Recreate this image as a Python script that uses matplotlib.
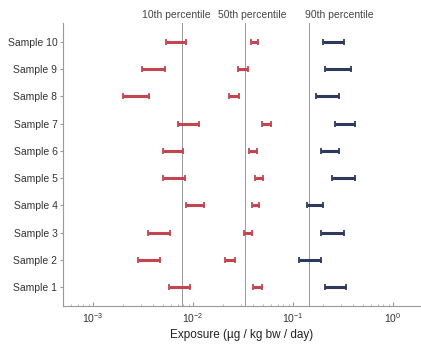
import matplotlib
matplotlib.use("Agg")
import matplotlib.pyplot as plt
import numpy as np

plt.rcParams['font.family'] = ['Liberation Sans', 'DejaVu Sans']

samples = ['Sample 1', 'Sample 2', 'Sample 3', 'Sample 4', 'Sample 5',
           'Sample 6', 'Sample 7', 'Sample 8', 'Sample 9', 'Sample 10']

# intervals (low, high) for each sample, Sample 1 first
p10_low = [0.0057, 0.0028, 0.0035, 0.0085, 0.0050, 0.0050, 0.0071, 0.0020, 0.0031, 0.0054]
p10_high = [0.0093, 0.0047, 0.0059, 0.0129, 0.0083, 0.0079, 0.0115, 0.0036, 0.0052, 0.0085]
p50_low = [0.040, 0.021, 0.032, 0.039, 0.042, 0.036, 0.049, 0.023, 0.028, 0.038]
p50_high = [0.049, 0.026, 0.039, 0.046, 0.050, 0.044, 0.060, 0.029, 0.035, 0.0446]
p90_low = [0.21, 0.115, 0.19, 0.138, 0.245, 0.19, 0.26, 0.17, 0.21, 0.20]
p90_high = [0.34, 0.19, 0.32, 0.20, 0.42, 0.29, 0.42, 0.29, 0.38, 0.32]

pct_lines = [0.0078, 0.033, 0.144]
pct_labels = ['10th percentile', '50th percentile', '90th percentile']

red = '#c2454f'
navy = '#2d3a5e'

fig = plt.figure(figsize=(4.21, 3.45), dpi=100)
ax = fig.add_axes([63/421, 39/345, 358/421, 283/345])

y = np.arange(1, len(samples) + 1)

def draw_bars(lo, hi, color):
    lo = np.array(lo)
    hi = np.array(hi)
    ax.hlines(y, lo, hi, color=color, linewidth=2.2, zorder=3)
    ax.plot(lo, y, '|', color=color, markersize=5, markeredgewidth=1.3, zorder=3)
    ax.plot(hi, y, '|', color=color, markersize=5, markeredgewidth=1.3, zorder=3)

draw_bars(p10_low, p10_high, red)
draw_bars(p50_low, p50_high, red)
draw_bars(p90_low, p90_high, navy)

# labels sit above the axes, packed side by side like the original
label_x = [0.221, 0.433, 0.676]
for v, lab, lx in zip(pct_lines, pct_labels, label_x):
    ax.axvline(v, color='#9a9a9a', linewidth=0.7, zorder=1)
    ax.text(lx, 1.01, lab, transform=ax.transAxes, ha='left', va='bottom',
            fontsize=7.5, color='#444444')

ax.set_xscale('log')
ax.set_xlim(5e-4, 1.9)
ax.set_ylim(0.3, 10.7)
ax.set_yticks(y)
ax.set_yticklabels(samples, fontsize=7.5, color='#333333')
ax.set_xticks([1e-3, 1e-2, 1e-1, 1e0])
ax.tick_params(axis='x', labelsize=7.5, labelcolor='#333333', direction='in',
               length=3, color='#999999')
ax.tick_params(axis='x', which='minor', direction='in', length=1.5, color='#aaaaaa')
ax.tick_params(axis='y', length=2, color='#999999', pad=2)
ax.set_xlabel('Exposure (µg / kg bw / day)', fontsize=8.5, color='#222222', labelpad=3)

for s in ['top', 'right']:
    ax.spines[s].set_visible(False)
for s in ['left', 'bottom']:
    ax.spines[s].set_color('#999999')
    ax.spines[s].set_linewidth(0.8)

fig.savefig('out.png', dpi=100)
